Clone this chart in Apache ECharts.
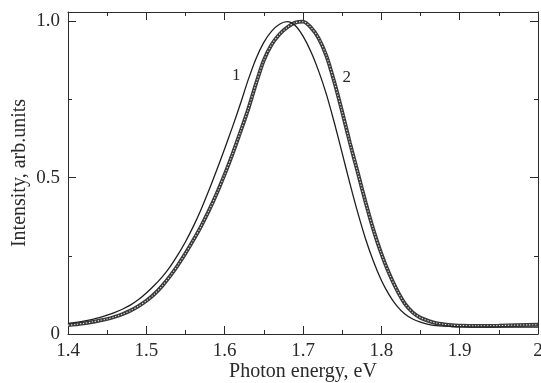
<!DOCTYPE html>
<html>
<head>
<meta charset="utf-8">
<script src="https://cdn.jsdelivr.net/npm/echarts@6/dist/echarts.min.js"></script>
<style>html,body{margin:0;padding:0;background:#fff}#c{width:541px;height:383px}</style>
</head>
<body>
<div id="c"></div>
<script>
// Curve 1 (solid line)
const energy1 = [1.40,1.41,1.42,1.43,1.44,1.45,1.46,1.47,1.48,1.49,1.50,1.51,1.52,1.53,1.54,1.55,1.56,1.57,1.58,1.59,1.60,1.61,1.62,1.63,1.64,1.65,1.66,1.67,1.68,1.69,1.70,1.71,1.72,1.73,1.74,1.75,1.76,1.77,1.78,1.79,1.80,1.81,1.82,1.83,1.84,1.85,1.86,1.87,1.88,1.89,1.90,1.92,1.95,2.00];
const intensity1 = [0.034,0.037,0.041,0.046,0.052,0.060,0.069,0.080,0.093,0.110,0.131,0.155,0.182,0.214,0.252,0.295,0.344,0.399,0.460,0.525,0.592,0.662,0.735,0.812,0.880,0.932,0.968,0.990,0.998,0.986,0.952,0.903,0.840,0.765,0.675,0.578,0.480,0.387,0.303,0.232,0.172,0.125,0.089,0.064,0.048,0.038,0.031,0.027,0.025,0.024,0.023,0.022,0.022,0.022];
// Curve 2 (open circles)
const energy2 = [1.40,1.41,1.42,1.43,1.44,1.45,1.46,1.47,1.48,1.49,1.50,1.51,1.52,1.53,1.54,1.55,1.56,1.57,1.58,1.59,1.60,1.61,1.62,1.63,1.64,1.65,1.66,1.67,1.68,1.69,1.70,1.71,1.72,1.73,1.74,1.75,1.76,1.77,1.78,1.79,1.80,1.81,1.82,1.83,1.84,1.85,1.86,1.87,1.88,1.89,1.90,1.92,1.95,2.00];
const intensity2 = [0.028,0.031,0.034,0.038,0.043,0.048,0.055,0.064,0.075,0.089,0.106,0.127,0.153,0.184,0.219,0.258,0.300,0.345,0.395,0.450,0.510,0.575,0.645,0.718,0.800,0.875,0.925,0.958,0.980,0.995,0.998,0.980,0.945,0.888,0.805,0.710,0.610,0.515,0.420,0.332,0.257,0.193,0.140,0.097,0.069,0.052,0.042,0.035,0.031,0.028,0.027,0.026,0.027,0.030];
// Curve labels and their positions (data units)
const curveLabels = ['1', '2'];
const labelPos = [[1.6147, 0.827], [1.7559, 0.819]];
// Tick labels
const xTickLabels = {'1.4':'1.4','1.5':'1.5','1.6':'1.6','1.7':'1.7','1.8':'1.8','1.9':'1.9','2':'2'};
const yTickLabels = {'0':'0','0.5':'0.5','1':'1.0'};

const font = 'Liberation Serif';
const ink = '#2a2a2a';
const zip = (a, b) => a.map((v, i) => [v, b[i]]);

const chart = echarts.init(document.getElementById('c'), null, {renderer: 'canvas'});
const xBase = {
  type: 'value', min: 1.4, max: 2.0, interval: 0.1,
  axisLine: {show: true, onZero: false, lineStyle: {color: ink, width: 1}},
  axisTick: {show: true, inside: true, length: 8, lineStyle: {color: ink}},
  minorTick: {show: true, splitNumber: 2, length: 4, lineStyle: {color: ink}},
  splitLine: {show: false}
};
const yBase = {
  type: 'value', min: 0, max: 1.029, interval: 0.5,
  axisLine: {show: true, onZero: false, lineStyle: {color: ink, width: 1}},
  axisTick: {show: true, inside: true, length: 8, lineStyle: {color: ink}},
  minorTick: {show: true, splitNumber: 2, length: 4, lineStyle: {color: ink}},
  splitLine: {show: false}
};
chart.setOption({
  animation: false,
  backgroundColor: '#fff',
  grid: {left: 68, right: 3, top: 12, bottom: 49, containLabel: false, outerBoundsMode: 'none'},
  xAxis: [
    Object.assign({}, xBase, {
      position: 'bottom',
      name: 'Photon energy, eV', nameLocation: 'middle', nameGap: 28, nameMoveOverlap: false,
      nameTextStyle: {fontFamily: font, fontSize: 20, color: ink},
      axisLabel: {
        margin: 8, fontFamily: font, fontSize: 19, color: ink,
        formatter: v => { const k = String(Math.round(v * 10) / 10); return xTickLabels[k] || ''; }
      }
    }),
    Object.assign({}, xBase, {position: 'top', axisLabel: {show: false}})
  ],
  yAxis: [
    Object.assign({}, yBase, {
      position: 'left',
      name: 'Intensity, arb.units', nameLocation: 'middle', nameGap: 38, nameMoveOverlap: false,
      nameTextStyle: {fontFamily: font, fontSize: 20, color: ink},
      axisLabel: {
        margin: 8, fontFamily: font, fontSize: 19, color: ink,
        formatter: v => { const k = String(Math.round(v * 10) / 10); return yTickLabels[k] || ''; }
      }
    }),
    Object.assign({}, yBase, {position: 'right', axisLabel: {show: false}})
  ],
  series: [
    {
      type: 'line', name: 'curve2', data: zip(energy2, intensity2),
      showSymbol: false, smooth: 0.3,
      lineStyle: {color: '#3a3a3a', width: 3.8}, z: 2
    },
    {
      type: 'line', name: 'curve2holes', data: zip(energy2, intensity2),
      showSymbol: false, smooth: 0.3,
      lineStyle: {color: '#ffffff', width: 1.1, type: [1.3, 1.7], opacity: 0.85}, z: 3
    },
    {
      type: 'line', name: 'curve1', data: zip(energy1, intensity1),
      showSymbol: false, smooth: 0.3,
      lineStyle: {color: '#1e1e1e', width: 1.3}, z: 4,
      markPoint: {
        symbol: 'circle', symbolSize: 1, itemStyle: {color: 'rgba(0,0,0,0)'},
        label: {show: true, position: 'inside', fontFamily: font, fontSize: 17, color: ink, formatter: p => p.name},
        data: curveLabels.map((t, i) => ({name: t, coord: labelPos[i]}))
      }
    }
  ]
});
</script>
</body>
</html>
